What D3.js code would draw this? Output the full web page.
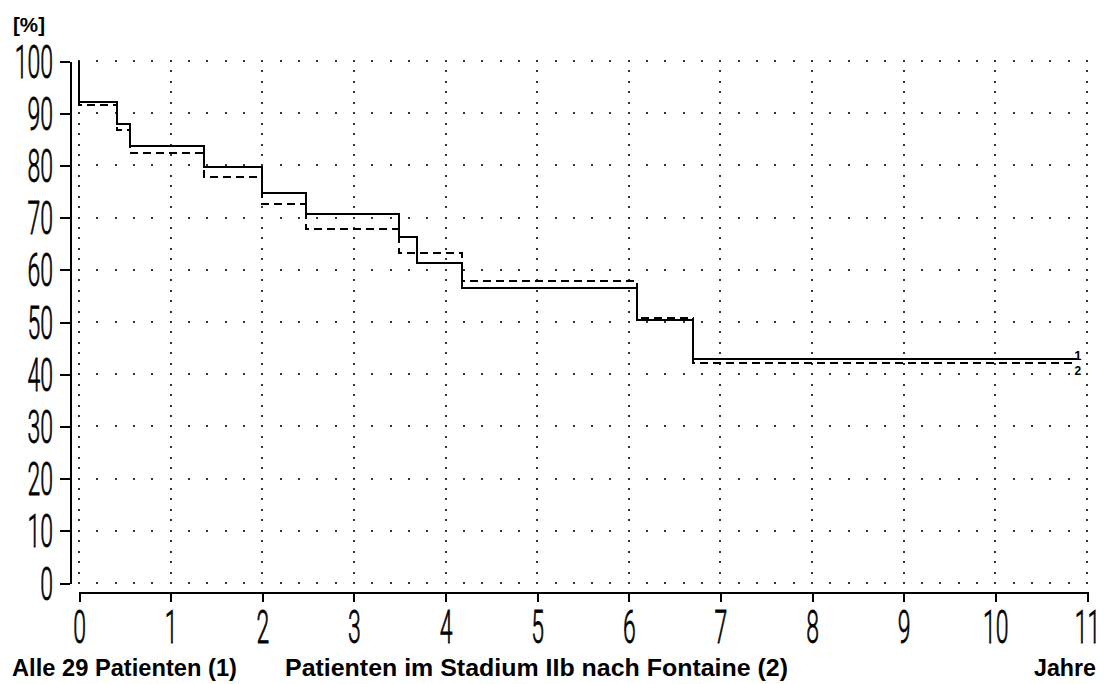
<!DOCTYPE html>
<html>
<head>
<meta charset="utf-8">
<script src="https://cdn.jsdelivr.net/npm/d3@7"></script>
<style>
  html, body { margin: 0; padding: 0; background: #fff; }
  svg { display: block; }
</style>
</head>
<body>
<svg id="chart" width="1106" height="684"></svg>
<script>
// ---- data ----
const xTickValues = [0, 1, 2, 3, 4, 5, 6, 7, 8, 9, 10, 11];
const yTickValues = [0, 10, 20, 30, 40, 50, 60, 70, 80, 90, 100];
// series 1: Alle 29 Patienten (solid)
const s1Times  = [0, 0.411, 0.557, 1.367, 2.0, 2.474, 3.492, 3.692, 4.183, 6.086, 6.703];
const s1Values = [92.1, 87.9, 83.8, 79.6, 74.8, 70.6, 66.2, 61.3, 56.6, 50.4, 43.0];
// series 2: Stadium IIb nach Fontaine (dashed)
const s2Times  = [0, 0.411, 0.557, 1.367, 2.0, 2.474, 3.492, 4.183, 6.086, 6.703];
const s2Values = [91.5, 86.8, 82.4, 77.8, 72.7, 67.8, 63.3, 57.8, 50.7, 42.1];
const endTime = 10.89;
const legendTexts = ["Alle 29 Patienten (1)", "Patienten im Stadium IIb nach Fontaine (2)"];
const xAxisTitle = "Jahre";
const yAxisTitle = "[%]";
const endLabels = ["1", "2"];

// ---- layout ----
const svg = d3.select("#chart");
const x = d3.scaleLinear().domain([0, 11]).range([79, 1087]);
const y = d3.scaleLinear().domain([0, 100]).range([583, 61]);
const xAxisY = 592;
const yAxisX = 70;

// ---- dotted grid ----
const grid = svg.append("g").attr("fill", "#333");
const xDots = d3.range(0, 55 + 1).map(i => i * 0.2);
yTickValues.forEach(v => {
  grid.selectAll(null).data(xDots).enter().append("rect")
    .attr("x", d => Math.round(x(d)) - 1).attr("y", Math.round(y(v)) - 1)
    .attr("width", 2).attr("height", 2);
});
const yDots = d3.range(0, 51).map(i => i * 2);
xTickValues.forEach(t => {
  grid.selectAll(null).data(yDots).enter().append("rect")
    .attr("x", Math.round(x(t)) - 1).attr("y", d => Math.round(y(d)) - 1)
    .attr("width", 2).attr("height", 2);
});

// ---- axes ----
const yAxis = svg.append("g")
  .attr("transform", `translate(${yAxisX},0)`)
  .call(d3.axisLeft(y).tickValues(yTickValues).tickSize(10).tickSizeOuter(0));
const xAxis = svg.append("g")
  .attr("transform", `translate(0,${xAxisY})`)
  .call(d3.axisBottom(x).tickValues(xTickValues).tickSize(10).tickSizeOuter(0));

[yAxis, xAxis].forEach(g => {
  g.select(".domain").attr("stroke", "#000").attr("stroke-width", 2).attr("shape-rendering", "crispEdges");
  g.selectAll(".tick line").attr("stroke", "#000").attr("stroke-width", 2).attr("shape-rendering", "crispEdges");
  g.selectAll(".tick text")
    .attr("font-family", "Roboto, 'Liberation Sans', Arial, sans-serif")
    .attr("font-weight", 300)
    .attr("font-size", 46)
    .attr("fill", "#000")
    .attr("stroke", "#000")
    .attr("stroke-width", 0.8)
    .attr("dy", null);
});
yAxis.selectAll(".tick text")
  .attr("text-anchor", "end")
  .attr("x", -17 / 0.5)
  .attr("y", 16)
  .attr("transform", "scale(0.5,1)");
xAxis.selectAll(".tick text")
  .attr("text-anchor", "middle")
  .attr("x", 0)
  .attr("y", 51)
  .attr("transform", "scale(0.5,1)");

// ---- curves ----
const line = d3.line().x(d => x(d[0])).y(d => y(d[1])).curve(d3.curveStepAfter);
function pts(times, values) {
  const p = [[0, 100]];
  times.forEach((t, i) => p.push([t, values[i]]));
  p.push([endTime, values[values.length - 1]]);
  return p;
}
svg.append("path")
  .attr("d", line(pts(s2Times, s2Values)))
  .attr("fill", "none").attr("stroke", "#000").attr("stroke-width", 2)
  .attr("stroke-dasharray", "8,5").attr("shape-rendering", "crispEdges");
svg.append("path")
  .attr("d", line(pts(s1Times, s1Values)))
  .attr("fill", "none").attr("stroke", "#000").attr("stroke-width", 2)
  .attr("shape-rendering", "crispEdges");

// end labels
svg.append("text").text(endLabels[0])
  .attr("x", x(endTime) + 1).attr("y", y(s1Values[s1Values.length - 1]) + 1)
  .attr("text-anchor", "middle")
  .attr("font-family", "'Liberation Sans', Arial, sans-serif")
  .attr("font-weight", "bold").attr("font-size", 13);
svg.append("text").text(endLabels[1])
  .attr("x", x(endTime) + 1).attr("y", y(s2Values[s2Values.length - 1]) + 12)
  .attr("text-anchor", "middle")
  .attr("font-family", "'Liberation Sans', Arial, sans-serif")
  .attr("font-weight", "bold").attr("font-size", 12);

// ---- titles ----
const bold = sel => sel
  .attr("font-family", "'Liberation Sans', Arial, sans-serif")
  .attr("font-weight", "bold").attr("fill", "#000");

svg.append("text").text(yAxisTitle)
  .attr("x", 13).attr("y", 32).attr("font-size", 21)
  .attr("textLength", 32).attr("lengthAdjust", "spacingAndGlyphs")
  .call(bold);

svg.append("text").text(legendTexts[0])
  .attr("x", 12).attr("y", 676).attr("font-size", 23)
  .attr("textLength", 225).attr("lengthAdjust", "spacingAndGlyphs")
  .call(bold);
svg.append("text").text(legendTexts[1])
  .attr("x", 285).attr("y", 676).attr("font-size", 23)
  .attr("textLength", 503).attr("lengthAdjust", "spacingAndGlyphs")
  .call(bold);
svg.append("text").text(xAxisTitle)
  .attr("x", 1034).attr("y", 676).attr("font-size", 23)
  .attr("textLength", 62).attr("lengthAdjust", "spacingAndGlyphs")
  .call(bold);
</script>
</body>
</html>
